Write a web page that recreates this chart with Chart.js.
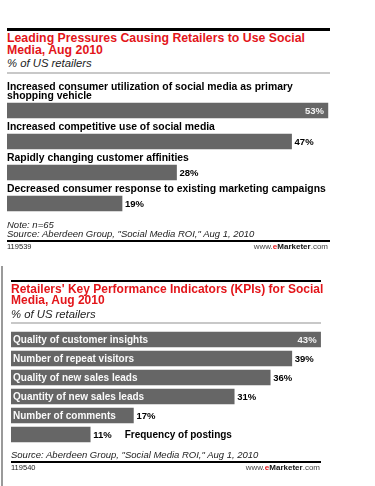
<!DOCTYPE html>
<html>
<head>
<meta charset="utf-8">
<script src="https://cdn.jsdelivr.net/npm/chart.js@4.4.0/dist/chart.umd.min.js"></script>
<style>
  html, body { margin: 0; padding: 0; background: #fff; }
  body { width: 375px; height: 486px; position: relative; overflow: hidden;
         font-family: "Liberation Sans", Arial, sans-serif; }
  .abs { position: absolute; white-space: nowrap; }
  .title { color: #e3151a; font-weight: bold; }
  .sub { color: #222; font-style: italic; font-size: 11.3px; line-height: 11px; }
  .note { color: #222; font-style: italic; font-size: 9.5px; line-height: 9.5px; }
  .id { color: #222; font-size: 7.5px; line-height: 7.5px; }
  .brand { color: #444; font-size: 8px; line-height: 7.5px; text-align: right; }
  .brand b { color: #111; }
  .brand .e { color: #e3151a; }
  .rule { position: absolute; }
</style>
</head>
<body>

<!-- first chart -->
<div class="rule" style="left:7px; top:28px; width:323px; height:3px; background:#000;"></div>
<div class="abs title" style="left:7px; top:33px; font-size:12.3px; line-height:11.5px;">Leading Pressures Causing Retailers to Use Social<br>Media, Aug 2010</div>
<div class="abs sub" style="left:7px; top:58px;">% of US retailers</div>
<div class="rule" style="left:7px; top:72px; width:323px; height:2px; background:#c8c8c8;"></div>
<canvas id="pressuresChart" class="abs" width="368" height="143" style="left:7px; top:77px;"></canvas>
<div class="abs note" style="left:7px; top:220px;">Note: n=65</div>
<div class="abs note" style="left:7px; top:229px;">Source: Aberdeen Group, "Social Media ROI," Aug 1, 2010</div>
<div class="rule" style="left:7px; top:240px; width:323px; height:2px; background:#000;"></div>
<div class="abs id" style="left:7px; top:243px;">119539</div>
<div class="abs brand" style="right:47px; top:243px;">www.<b><span class="e">e</span>Marketer</b>.com</div>

<!-- second chart -->
<div class="rule" style="left:1px; top:266px; width:2px; height:220px; background:#9a9a9a;"></div>
<div class="rule" style="left:11px; top:280px; width:310px; height:2px; background:#000;"></div>
<div class="abs title" style="left:11px; top:284px; font-size:12px; line-height:11px;">Retailers' Key Performance Indicators (KPIs) for Social<br>Media, Aug 2010</div>
<div class="abs sub" style="left:11px; top:309px;">% of US retailers</div>
<div class="rule" style="left:11px; top:322px; width:310px; height:2px; background:#c8c8c8;"></div>
<canvas id="kpiChart" class="abs" width="364" height="114" style="left:11px; top:330px;"></canvas>
<div class="abs note" style="left:11px; top:450px;">Source: Aberdeen Group, "Social Media ROI," Aug 1, 2010</div>
<div class="rule" style="left:11px; top:461px; width:310px; height:2px; background:#000;"></div>
<div class="abs id" style="left:11px; top:464px;">119540</div>
<div class="abs brand" style="right:55px; top:464px;">www.<b><span class="e">e</span>Marketer</b>.com</div>

<script>
// Leading pressures (% of US retailers)
var pressureLabels = [
  ["Increased consumer utilization of social media as primary", "shopping vehicle"],
  "Increased competitive use of social media",
  "Rapidly changing customer affinities",
  "Decreased consumer response to existing marketing campaigns"
];
var pressureValues = [53, 47, 28, 19];

// KPIs for social media (% of US retailers)
var kpiLabels = [
  "Quality of customer insights",
  "Number of repeat visitors",
  "Quality of new sales leads",
  "Quantity of new sales leads",
  "Number of comments",
  "Frequency of postings"
];
var kpiValues = [43, 39, 36, 31, 17, 11];

var FONT = '"Liberation Sans", Arial, sans-serif';

// writes the category names and the % values next to / inside the bars
var barText = {
  id: 'barText',
  afterDatasetsDraw: function(chart, args, opts) {
    var ctx = chart.ctx;
    var data = chart.data.datasets[0].data;
    var max = Math.max.apply(null, data);
    chart.getDatasetMeta(0).data.forEach(function(bar, i) {
      var pct = data[i] + '%';
      var top = bar.y - bar.height / 2;
      ctx.save();
      ctx.textBaseline = 'middle';
      ctx.font = 'bold 9.5px ' + FONT;
      var pctW = ctx.measureText(pct).width;
      if (data[i] === max) {
        ctx.fillStyle = '#f4f4f4';
        ctx.textAlign = 'right';
        ctx.fillText(pct, bar.x - 4, bar.y + 0.5);
      } else {
        ctx.fillStyle = '#000';
        ctx.textAlign = 'left';
        ctx.fillText(pct, bar.x + 3, bar.y + 0.5);
      }

      var lbl = chart.data.labels[i];
      ctx.font = 'bold ' + opts.size + 'px ' + FONT;
      ctx.textAlign = 'left';
      if (opts.above) {
        var lines = [].concat(lbl);
        ctx.textBaseline = 'alphabetic';
        ctx.fillStyle = '#000';
        lines.forEach(function(ln, k) {
          ctx.fillText(ln, bar.base, top - 4 - (lines.length - 1 - k) * 9);
        });
      } else {
        var w = ctx.measureText(lbl).width;
        if (w + 8 < bar.x - bar.base) {
          ctx.fillStyle = '#fafafa';
          ctx.fillText(lbl, bar.base + 2, bar.y + 0.5);
        } else {
          ctx.fillStyle = '#000';
          ctx.fillText(lbl, bar.x + 3 + pctW + 13, bar.y + 0.5);
        }
      }
      ctx.restore();
    });
  }
};

function makeChart(id, labels, values, xMax, pad, above, size) {
  var ctx = document.getElementById(id).getContext('2d');
  return new Chart(ctx, {
    type: 'bar',
    data: {
      labels: labels,
      datasets: [{
        data: values,
        backgroundColor: '#666666',
        borderWidth: 0,
        barThickness: 15
      }]
    },
    options: {
      indexAxis: 'y',
      responsive: false,
      animation: false,
      layout: { padding: pad },
      plugins: {
        legend: { display: false },
        tooltip: { enabled: false },
        barText: { above: above, size: size }
      },
      scales: {
        x: { display: false, min: 0, max: xMax },
        y: { display: false }
      }
    },
    plugins: [barText]
  });
}

window.onload = function() {
  makeChart('pressuresChart', pressureLabels, pressureValues, 55,
            { top: 18, bottom: 1, left: 0, right: 35 }, true, 10.4);
  makeChart('kpiChart', kpiLabels, kpiValues, 45,
            { top: 0, bottom: 0, left: 0, right: 40 }, false, 10);
};
</script>
</body>
</html>
